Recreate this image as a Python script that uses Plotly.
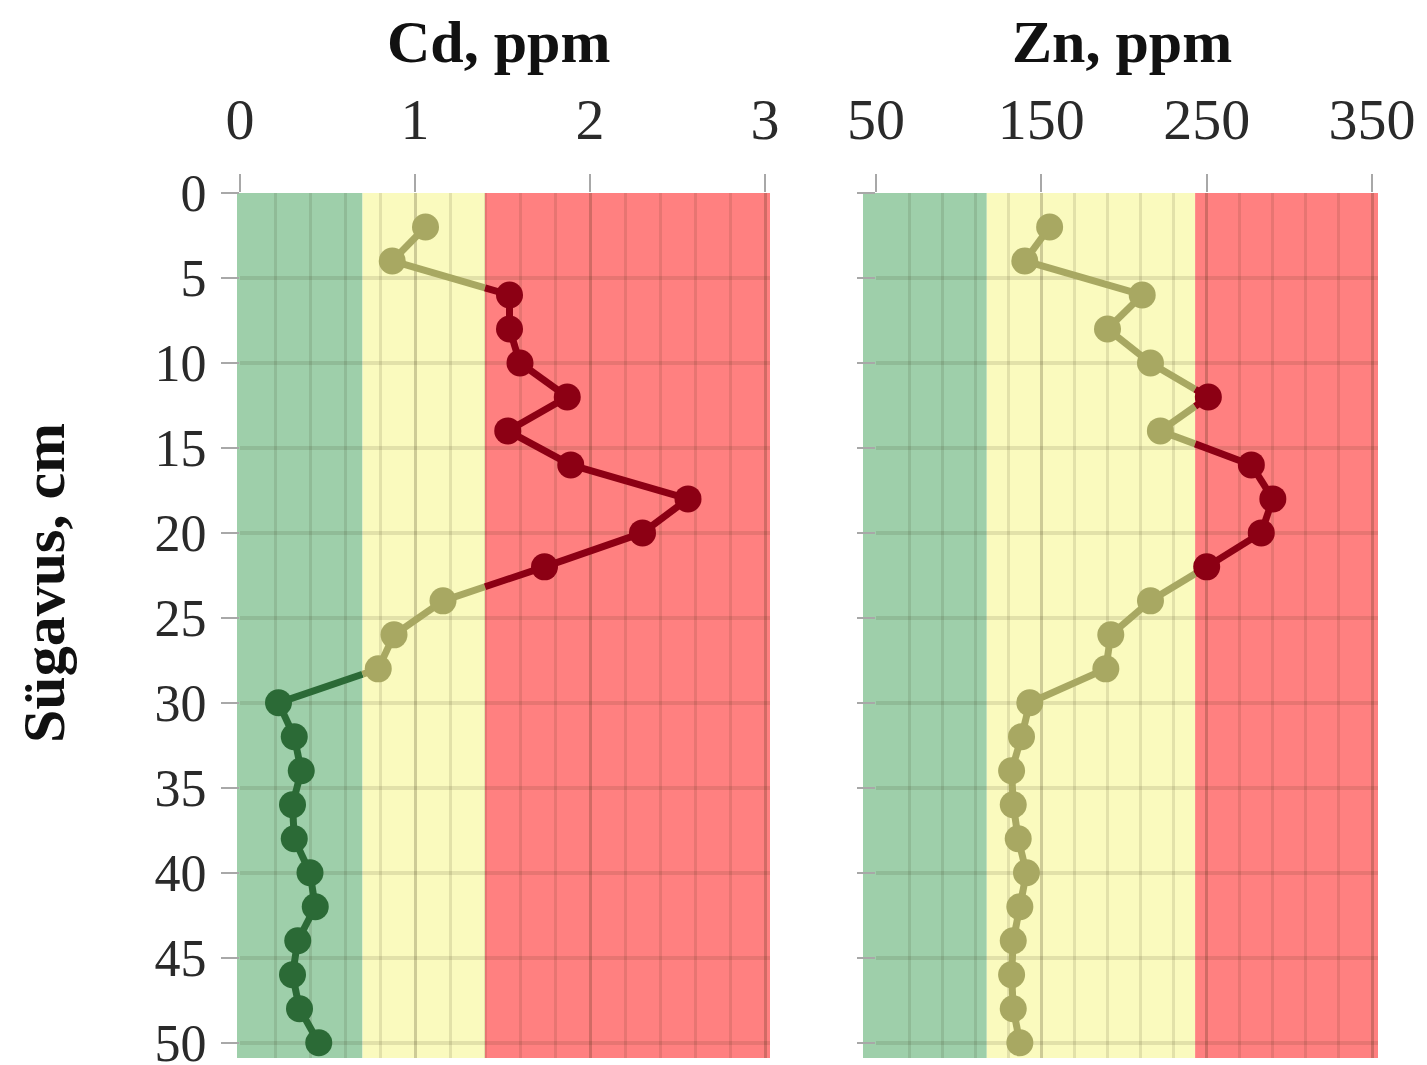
import plotly.graph_objects as go

# ---------------- data ----------------
depth = [2, 4, 6, 8, 10, 12, 14, 16, 18, 20, 22, 24, 26, 28, 30,
         32, 34, 36, 38, 40, 42, 44, 46, 48, 50]
cd = [1.06, 0.87, 1.54, 1.54, 1.60, 1.87, 1.53, 1.89, 2.56, 2.30, 1.74, 1.16, 0.88,
      0.79, 0.22, 0.31, 0.35, 0.30, 0.31, 0.40, 0.43, 0.33, 0.30, 0.34, 0.45]
zn = [155, 140, 211, 190, 216, 251, 222, 277, 290, 283, 250, 216, 192,
      189, 143, 138, 132, 133, 136, 141, 137, 133, 132, 133, 137]

cd_ticks = [0, 1, 2, 3]
zn_ticks = [50, 150, 250, 350]
depth_ticks = [0, 5, 10, 15, 20, 25, 30, 35, 40, 45, 50]

cd_limits = [0.7, 1.4]      # green / yellow / red class limits
zn_limits = [117, 243]

cd_title = "Cd, ppm"
zn_title = "Zn, ppm"
y_title = "Sügavus, cm"

# ---------------- style ----------------
FONT = "Liberation Serif"
band_fill = ["rgb(158,207,170)", "rgb(250,250,190)", "rgb(255,128,128)"]
mark_col = ["#2b6a36", "#a8a862", "#8c0014"]
GRID = "rgba(40,30,0,0.11)"
TICKC = "#a8a8a8"

W, H = 1427, 1065
ML, MR, MT, MB = 240, 49, 193, 7
PW, PH = W - ML - MR, H - MT - MB

CD_PIX = (240, 770)
ZN_PIX = (876, 1378)
CD_RANGE = [0, 3.0286]
ZN_RANGE = [50, 353.6]
Y_RANGE = [50.9, 0]


def px(p):
    return (p - ML) / PW


def py(p):
    return (H - MB - p) / PH


def cat(v, lim):
    return sum(v > l for l in lim)


def split_segments(xs, ys, lim):
    out = {0: ([], []), 1: ([], []), 2: ([], [])}
    for i in range(len(xs) - 1):
        x0, y0, x1, y1 = xs[i], ys[i], xs[i + 1], ys[i + 1]
        ts = [0.0]
        for l in lim:
            if (x0 - l) * (x1 - l) < 0:
                ts.append((l - x0) / (x1 - x0))
        ts.append(1.0)
        ts.sort()
        for a, b in zip(ts[:-1], ts[1:]):
            xa, ya = x0 + a * (x1 - x0), y0 + a * (y1 - y0)
            xb, yb = x0 + b * (x1 - x0), y0 + b * (y1 - y0)
            c = cat((xa + xb) / 2, lim)
            out[c][0].extend([xa, xb, None])
            out[c][1].extend([ya, yb, None])
    return out


fig = go.Figure()


def add_series(xs, ys, lim, xa, ya):
    segs = split_segments(xs, ys, lim)
    for c in range(3):
        fig.add_trace(go.Scatter(x=segs[c][0], y=segs[c][1], mode="lines",
                                 line=dict(color=mark_col[c], width=7),
                                 xaxis=xa, yaxis=ya, showlegend=False,
                                 hoverinfo="skip", cliponaxis=False))
    for c in range(3):
        mx = [x for x in xs if cat(x, lim) == c]
        my = [y for x, y in zip(xs, ys) if cat(x, lim) == c]
        fig.add_trace(go.Scatter(x=mx, y=my, mode="markers",
                                 marker=dict(color=mark_col[c], size=27, line=dict(width=0)),
                                 xaxis=xa, yaxis=ya, showlegend=False, cliponaxis=False))


add_series(cd, depth, cd_limits, "x", "y")
add_series(zn, depth, zn_limits, "x2", "y2")


# background class bands (paper coords from axis mapping)
def band_shapes(rng, pix, lim, left_pix, right_pix):
    def to_pix(v):
        return pix[0] + (v - rng[0]) / (rng[1] - rng[0]) * (pix[1] - pix[0])
    edges = [left_pix] + [to_pix(l) for l in lim] + [right_pix]
    for i in range(3):
        fig.add_shape(type="rect", xref="paper", yref="paper",
                      x0=px(edges[i]), x1=px(edges[i + 1]), y0=0, y1=1,
                      fillcolor=band_fill[i], line=dict(width=0), layer="below")


band_shapes(CD_RANGE, CD_PIX, cd_limits, 237, 770)
band_shapes(ZN_RANGE, ZN_PIX, zn_limits, 863, 1378)

xtickfont = dict(family=FONT, size=58, color="#2a2a2a")
ytickfont = dict(family=FONT, size=52, color="#2a2a2a")
common_x = dict(side="top", ticks="outside", ticklen=18, tickwidth=2, tickcolor=TICKC,
                showgrid=True, gridcolor=GRID, gridwidth=3, zeroline=False,
                showline=False, tickfont=xtickfont, tickmode="array",
                ticklabelstandoff=12, ticklabeloverflow="allow", automargin=False)
common_y = dict(range=Y_RANGE, ticks="outside", ticklen=18, tickwidth=2, tickcolor=TICKC,
                showgrid=True, gridcolor=GRID, gridwidth=3.5, zeroline=False,
                showline=False, tickfont=ytickfont, tickmode="array",
                tickvals=depth_ticks, ticktext=[str(v) for v in depth_ticks],
                ticklabelstandoff=4, ticklabeloverflow="allow", automargin=False)

fig.update_layout(
    width=W, height=H,
    margin=dict(l=ML, r=MR, t=MT, b=MB, autoexpand=False),
    paper_bgcolor="white", plot_bgcolor="rgba(0,0,0,0)",
    xaxis=dict(domain=[px(CD_PIX[0]), px(CD_PIX[1])], range=CD_RANGE, anchor="y",
               tickvals=cd_ticks, ticktext=[str(v) for v in cd_ticks],
               minor=dict(tickmode="linear", tick0=0, dtick=0.2, showgrid=True,
                          gridcolor=GRID, gridwidth=3, ticks=""),
               **common_x),
    xaxis2=dict(domain=[px(ZN_PIX[0]), px(ZN_PIX[1])], range=ZN_RANGE, anchor="y2",
                tickvals=zn_ticks, ticktext=[str(v) for v in zn_ticks],
                minor=dict(tickmode="linear", tick0=50, dtick=20, showgrid=True,
                           gridcolor=GRID, gridwidth=3, ticks=""),
                **common_x),
    yaxis=dict(anchor="x", domain=[0, 1], **common_y),
    yaxis2=dict(anchor="x2", domain=[0, 1], showticklabels=False, **common_y),
    annotations=[
        dict(text=f"<b>{cd_title}</b>", x=px(498), y=py(42), xref="paper", yref="paper",
             showarrow=False, xanchor="center", yanchor="middle",
             font=dict(family=FONT, size=60, color="#111111")),
        dict(text=f"<b>{zn_title}</b>", x=px(1122), y=py(42), xref="paper", yref="paper",
             showarrow=False, xanchor="center", yanchor="middle",
             font=dict(family=FONT, size=60, color="#111111")),
        dict(text=f"<b>{y_title}</b>", x=px(44), y=py(583), xref="paper", yref="paper",
             showarrow=False, xanchor="center", yanchor="middle", textangle=-90,
             font=dict(family=FONT, size=60, color="#111111")),
    ],
)

fig.write_html("out.html")
